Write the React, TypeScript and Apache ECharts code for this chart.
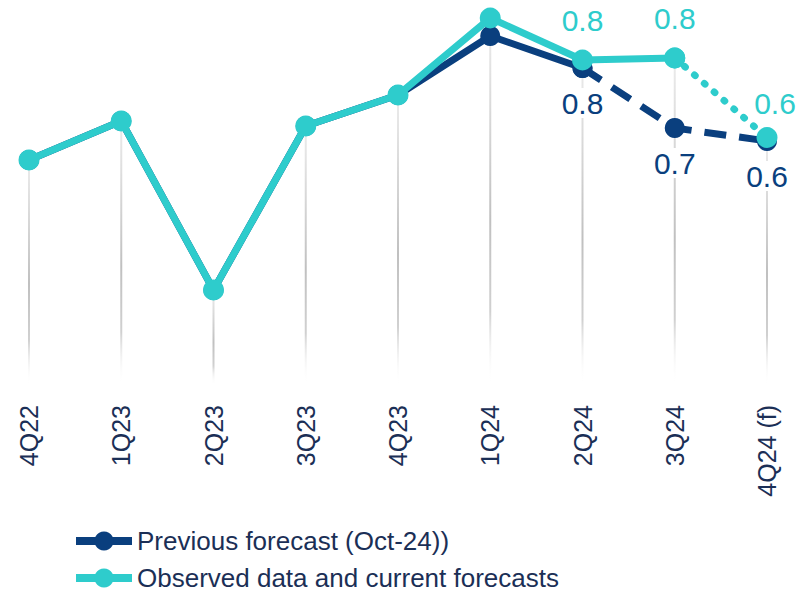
import React, { useEffect, useRef } from "react";
import * as echarts from "echarts";

const categories = ["4Q22", "1Q23", "2Q23", "3Q23", "4Q23", "1Q24", "2Q24", "3Q24", "4Q24 (f)"];
const previousForecast = [0.6, 0.678, 0.34, 0.668, 0.73, 0.848, 0.784, 0.664, 0.638];
const observedData = [0.6, 0.678, 0.34, 0.668, 0.73, 0.884, 0.8, 0.804, 0.645];
const labelledIndexes = [6, 7, 8];
const previousName = "Previous forecast (Oct-24))";
const observedName = "Observed data and current forecasts";

const NAVY = "#0a3f7e";
const CYAN = "#2ecccc";
const TEXT = "#1b2f56";
const FONT = "'Liberation Sans', Arial, sans-serif";

function segment(values: number[], from: number, to: number, labelPos: string | null, color: string) {
  return values.map((v, i) => {
    if (i < from || i > to) return null;
    if (labelPos && labelledIndexes.includes(i)) {
      const isTop = labelPos === "top";
      return {
        value: v,
        label: {
          show: true,
          position: labelPos,
          distance: isTop ? (i === 8 ? 9 : 14) : 10,
          formatter: (p: any) => Number(p.value).toFixed(1),
          color,
          fontSize: 30,
          fontFamily: FONT,
          backgroundColor: isTop ? undefined : "#ffffff",
          offset: i === 8 && isTop ? [8, 0] : [0, 0],
        },
      };
    }
    return v;
  });
}

export default function App() {
  const ref = useRef<HTMLDivElement>(null);
  useEffect(() => {
    if (!ref.current) return;
    const chart = echarts.init(ref.current, null, { renderer: "svg" });
    const dropTops = observedData.map((v, i) => [i, Math.max(v, previousForecast[i])]);
    const yMin = 0.15;
    const legendBase = {
      orient: "horizontal",
      left: 72,
      padding: 0,
      itemWidth: 56,
      itemHeight: 24,
      itemGap: 5,
      lineStyle: { width: 8 },
      textStyle: { fontSize: 26, lineHeight: 22, color: TEXT, fontFamily: FONT },
    };
    chart.setOption({
      animation: false,
      backgroundColor: "#ffffff",
      grid: { left: 29, right: 31, top: 10, bottom: 207, containLabel: false },
      legend: [
        { ...legendBase, top: 528, data: [previousName] },
        { ...legendBase, top: 565, data: [observedName] },
      ],
      xAxis: {
        type: "category",
        data: categories,
        boundaryGap: false,
        axisLine: { show: false },
        axisTick: { show: false },
        splitLine: { show: false },
        axisLabel: { rotate: 90, fontSize: 25, color: TEXT, fontFamily: FONT, margin: 20 },
      },
      yAxis: { type: "value", min: yMin, max: 0.9, show: false, splitLine: { show: false } },
      series: [
        {
          type: "custom",
          name: "drop",
          z: 1,
          silent: true,
          data: dropTops,
          renderItem: (params: any, api: any) => {
            const top = api.coord([api.value(0), api.value(1)]);
            const bottom = api.coord([api.value(0), yMin]);
            return {
              type: "rect",
              shape: { x: top[0] - 1, y: top[1], width: 2, height: bottom[1] - top[1] },
              style: {
                fill: new echarts.graphic.LinearGradient(0, 0, 0, 1, [
                  { offset: 0, color: "rgba(200,200,200,0.35)" },
                  { offset: 0.55, color: "rgba(192,192,192,1)" },
                  { offset: 0.8, color: "rgba(200,200,200,0.85)" },
                  { offset: 1, color: "rgba(255,255,255,0)" },
                ]),
              },
            };
          },
        },
        {
          type: "line",
          name: previousName,
          z: 2,
          data: segment(previousForecast, 0, 6, null, NAVY),
          symbol: "circle",
          symbolSize: 20,
          color: NAVY,
          lineStyle: { color: NAVY, width: 7 },
          itemStyle: { color: NAVY },
        },
        {
          type: "line",
          name: previousName,
          z: 2,
          data: segment(previousForecast, 6, 8, "bottom", NAVY),
          symbol: "circle",
          symbolSize: 20,
          color: NAVY,
          lineStyle: { color: NAVY, width: 7, type: [22, 13] },
          itemStyle: { color: NAVY },
        },
        {
          type: "line",
          name: observedName,
          z: 3,
          data: segment(observedData, 0, 7, "top", CYAN),
          symbol: "circle",
          symbolSize: 21,
          color: CYAN,
          lineStyle: { color: CYAN, width: 7 },
          itemStyle: { color: CYAN },
        },
        {
          type: "line",
          name: observedName,
          z: 3,
          data: segment(observedData, 7, 8, "top", CYAN).map((d, i) => (i === 7 && d && typeof d === "object" ? (d as any).value : d)),
          symbol: "circle",
          symbolSize: 21,
          color: CYAN,
          lineStyle: { color: CYAN, width: 7, type: [1, 12], cap: "round" },
          itemStyle: { color: CYAN },
        },
      ],
    });
    return () => chart.dispose();
  }, []);
  return <div ref={ref} style={{ position: "absolute", left: 0, top: 0, width: 798, height: 592 }} />;
}
